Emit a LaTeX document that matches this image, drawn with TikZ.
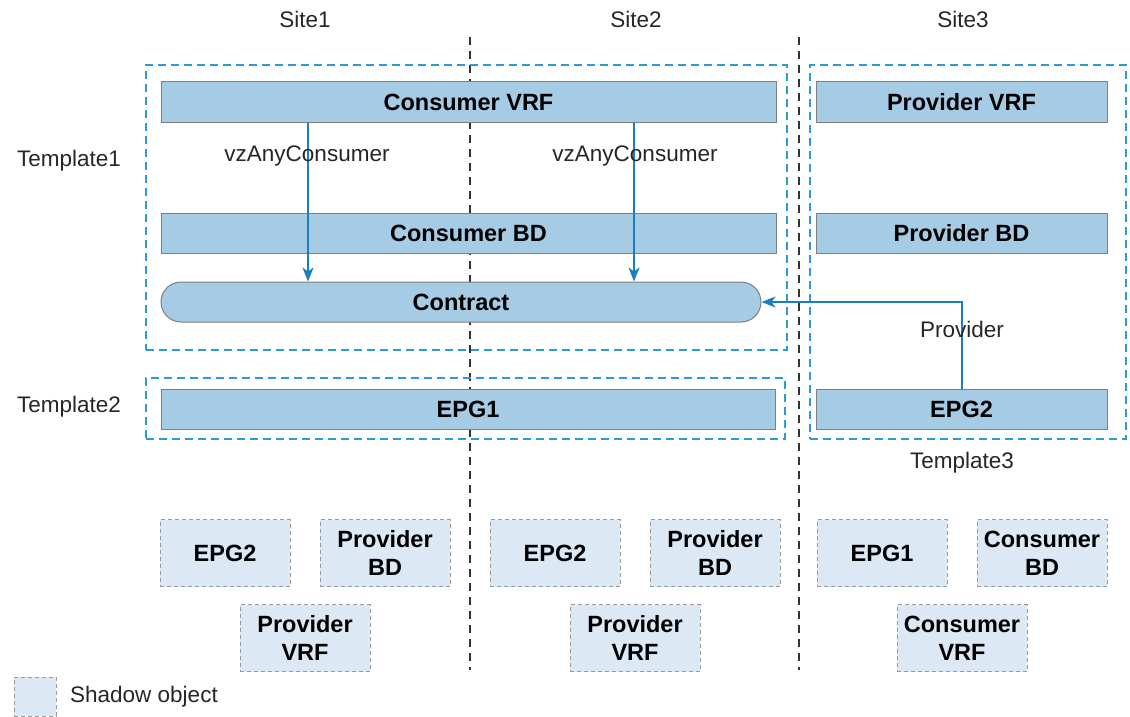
\documentclass[tikz,border=0pt]{standalone}
\usepackage{fontspec}
\setmainfont{Liberation Sans}
\usetikzlibrary{arrows.meta}
\definecolor{boxfill}{HTML}{A6CBE5}
\definecolor{boxline}{HTML}{7F7F7F}
\definecolor{tmpl}{HTML}{2B9AD6}
\definecolor{shfill}{HTML}{DCE9F5}
\definecolor{shline}{HTML}{9A9A9A}
\definecolor{arr}{HTML}{1B7EC2}
\begin{document}
\begin{tikzpicture}[x=1pt,y=-1pt,
  lbl/.style={font=\fontsize{22.5}{26}\selectfont, inner sep=0pt, text=black!85},
  objbox/.style={draw=boxline, fill=boxfill, line width=1pt, font=\fontsize{23.5}{26}\selectfont\bfseries, inner sep=0pt, minimum height=40pt},
  tmplbox/.style={draw=tmpl, line width=1.6pt, dash pattern=on 8pt off 5pt, inner sep=0pt},
  shadowbox/.style={draw=shline, dash pattern=on 4pt off 3pt, line width=1pt, fill=shfill, font=\fontsize{23.5}{28}\selectfont\bfseries, minimum width=130pt, minimum height=67pt, align=center, inner sep=0pt},
  divider/.style={draw=black!80, line width=1.5pt, dash pattern=on 8pt off 6pt},
  link/.style={draw=arr, line width=1.6pt, -{Stealth[length=14pt,width=11pt,inset=4pt]}}
]
\useasboundingbox (0,0) rectangle (1130,717);

% site dividers
\coordinate (d1t) at (470,37);
\coordinate (d1b) at (470,670);
\coordinate (d2t) at (799,37);
\coordinate (d2b) at (799,670);
\draw[divider] (d1t) -- (d1b);
\draw[divider] (d2t) -- (d2b);

% site labels
\node[lbl] (s1) at (305,19) {Site1};
\node[lbl] (s2) at (636,19) {Site2};
\node[lbl] (s3) at (963,19) {Site3};

% templates
\node[tmplbox, minimum width=641pt, minimum height=285pt] (t1) at (466.5,207.5) {};
\node[tmplbox, minimum width=639pt, minimum height=61pt] (t2) at (465.5,408.5) {};
\node[tmplbox, minimum width=316pt, minimum height=374pt] (t3) at (968,252) {};
\node[lbl] (t1l) at (69,161) {Template1};
\node[lbl] (t2l) at (69,407) {Template2};
\node[lbl] (t3l) at (962,463) {Template3};

% objects
\node[objbox, minimum width=615pt] (cvrf) at (468.5,102) {Consumer VRF};
\node[objbox, minimum width=615pt] (cbd) at (468.5,233) {Consumer BD};
\node[objbox, minimum width=600pt, rounded corners=20pt] (contract) at (461,302) {Contract};
\node[objbox, minimum width=614pt] (epg1) at (468,409) {EPG1};
\node[objbox, minimum width=291pt] (pvrf) at (961.5,102) {Provider VRF};
\node[objbox, minimum width=291pt] (pbd) at (961.5,233) {Provider BD};
\node[objbox, minimum width=291pt] (epg2) at (961.5,409) {EPG2};

% relations
\coordinate (a1) at (308,0);
\coordinate (a2) at (634,0);
\coordinate (a3) at (962,0);
\draw[link] (cvrf.south -| a1) -- (contract.north -| a1);
\draw[link] (cvrf.south -| a2) -- (contract.north -| a2);
\node[lbl] (vz1) at (307,156) {vzAnyConsumer};
\node[lbl] (vz2) at (635,156) {vzAnyConsumer};
\draw[link] (epg2.north -| a3) -- (contract.east -| a3) -- (contract.east);
\node[lbl] (prov) at (962,329) {Provider};

% shadow objects
\node[shadowbox] (sh1a) at (225,553) {EPG2};
\node[shadowbox] (sh1b) at (385,553) {Provider\\BD};
\node[shadowbox] (sh1c) at (305,638) {Provider\\VRF};
\node[shadowbox] (sh2a) at (555,553) {EPG2};
\node[shadowbox] (sh2b) at (715,553) {Provider\\BD};
\node[shadowbox] (sh2c) at (635,638) {Provider\\VRF};
\node[shadowbox] (sh3a) at (882,553) {EPG1};
\node[shadowbox] (sh3b) at (1042,553) {Consumer\\BD};
\node[shadowbox] (sh3c) at (962,638) {Consumer\\VRF};

% legend
\node[shadowbox, minimum width=42pt, minimum height=39pt] (leg) at (35,696.5) {};
\node[lbl, anchor=west] (legt) at (70,697) {Shadow object};
\end{tikzpicture}
\end{document}
